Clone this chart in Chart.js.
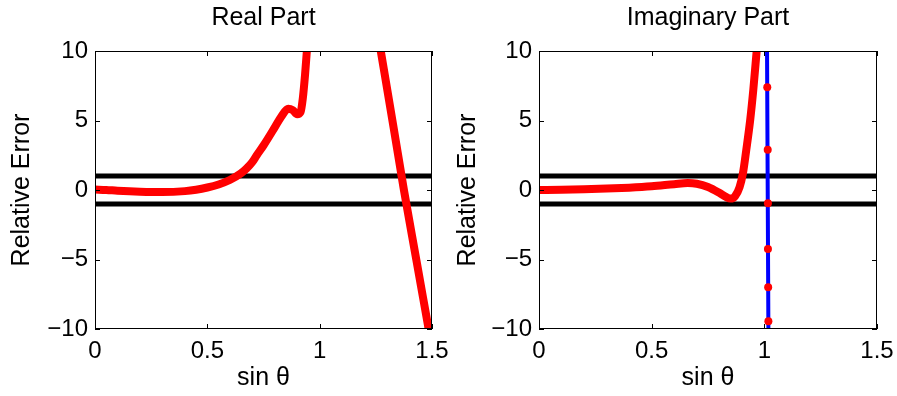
<!DOCTYPE html>
<html>
<head>
<meta charset="utf-8">
<script src="https://cdn.jsdelivr.net/npm/chart.js@4/dist/chart.umd.min.js"></script>
<style>
    html, body { margin: 0; padding: 0; background: #fff; }
    #wrap { position: relative; width: 897px; height: 396px; overflow: hidden; }
    .panel { position: absolute; top: 0; }
</style>
</head>
<body>
<div id="wrap">
    <div class="panel" style="left:0;"><canvas id="chartReal" width="470" height="396"></canvas></div>
    <div class="panel" style="left:448px;"><canvas id="chartImag" width="449" height="396"></canvas></div>
</div>
<script>
// ── Datos ─────────────────────────────────────────────────────────────────
const xTicks = [0, 0.5, 1, 1.5];
const yTicks = [-10, -5, 0, 5, 10];

// Parte real: primer tramo y tramo descendente
const realX1 = [0, 0.05, 0.1, 0.2, 0.3, 0.4, 0.45, 0.5, 0.55, 0.6, 0.65, 0.675, 0.7, 0.72, 0.75, 0.8, 0.83, 0.86, 0.88, 0.9, 0.915, 0.925, 0.935, 0.943];
const realY1 = [0.03, 0, -0.05, -0.12, -0.15, -0.08, 0.02, 0.18, 0.4, 0.72, 1.2, 1.55, 2.0, 2.5, 3.2, 4.5, 5.3, 5.85, 5.75, 5.45, 5.6, 6.6, 8.3, 10];
const realX2 = [1.272, 1.33, 1.375, 1.43, 1.485];
const realY2 = [10, 4.4, 0, -5, -10];

// Parte imaginaria
const imagX = [0, 0.1, 0.2, 0.3, 0.4, 0.5, 0.6, 0.66, 0.7, 0.75, 0.8, 0.83, 0.85, 0.87, 0.89, 0.905, 0.92, 0.937, 0.951, 0.966];
const imagY = [0, 0.02, 0.05, 0.1, 0.17, 0.27, 0.42, 0.5, 0.45, 0.22, -0.2, -0.5, -0.62, -0.45, 0.2, 1.2, 2.9, 5.0, 7.2, 10];
const blueX = [1.012, 1.018];
const blueY = [10, -10];
const dotX  = [1.013, 1.015, 1.016, 1.016, 1.017, 1.018];
const dotY  = [7.4, 2.9, -0.95, -4.25, -7.0, -9.45];

// Bandas de ±1
const bandX  = [0, 1.5];
const bandUp = [1, 1];
const bandDn = [-1, -1];

const pts = (xs, ys) => xs.map((x, i) => ({ x, y: ys[i] }));

// ── Caja estilo MATLAB con marcas hacia dentro ───────────────────────────
const boxPlugin = {
    id: 'matlabBox',
    afterDraw(chart) {
        const { ctx, chartArea: a, scales } = chart;
        const len = 5;
        ctx.save();
        ctx.strokeStyle = '#000';
        ctx.lineWidth = 1;
        ctx.strokeRect(a.left + 0.5, a.top + 0.5, a.right - a.left - 1, a.bottom - a.top - 1);
        ctx.beginPath();
        xTicks.forEach(v => {
            const px = Math.round(scales.x.getPixelForValue(v)) + 0.5;
            ctx.moveTo(px, a.bottom); ctx.lineTo(px, a.bottom - len);
            ctx.moveTo(px, a.top);    ctx.lineTo(px, a.top + len);
        });
        yTicks.forEach(v => {
            const py = Math.round(scales.y.getPixelForValue(v)) + 0.5;
            ctx.moveTo(a.left, py);  ctx.lineTo(a.left + len, py);
            ctx.moveTo(a.right, py); ctx.lineTo(a.right - len, py);
        });
        ctx.stroke();
        ctx.restore();
    }
};

function lineSet(data, color, width, order) {
    return {
        data, borderColor: color, backgroundColor: color, borderWidth: width,
        showLine: true, pointRadius: 0, order,
        borderCapStyle: 'round', borderJoinStyle: 'round',
        cubicInterpolationMode: 'monotone'
    };
}

function makeChart(canvasId, title, datasets, yAxisWidth, rightPad, yTitlePad) {
    const font = 'Liberation Sans, Arial, Helvetica, sans-serif';
    return new Chart(document.getElementById(canvasId).getContext('2d'), {
        type: 'scatter',
        data: { datasets },
        options: {
            responsive: false,
            animation: false,
            layout: { padding: { left: 0, right: rightPad, top: 0, bottom: 0 } },
            plugins: {
                legend: { display: false },
                tooltip: { enabled: false },
                title: {
                    display: true, text: title, fullSize: false, color: '#000',
                    font: { family: font, size: 25, weight: 'normal' },
                    padding: { top: 3, bottom: 18 }
                }
            },
            scales: {
                x: {
                    type: 'linear', min: 0, max: 1.5,
                    afterBuildTicks: s => { s.ticks = xTicks.map(v => ({ value: v })); },
                    afterFit: s => { s.height = 67; s.paddingLeft = 0; s.paddingRight = 0; },
                    grid: { display: false, drawTicks: false },
                    border: { display: false },
                    ticks: { color: '#000', padding: 8, maxRotation: 0,
                             font: { family: font, size: 24 },
                             callback: v => String(v) },
                    title: { display: true, text: 'sin θ', color: '#000',
                             font: { family: font, size: 25 },
                             padding: { top: 0, bottom: 3 } }
                },
                y: {
                    type: 'linear', min: -10, max: 10,
                    afterBuildTicks: s => { s.ticks = yTicks.map(v => ({ value: v })); },
                    afterFit: s => { s.width = yAxisWidth; },
                    grid: { display: false, drawTicks: false },
                    border: { display: false },
                    ticks: { color: '#000', padding: 7,
                             font: { family: font, size: 24 },
                             callback: v => String(v).replace('-', '\u2212') },
                    title: { display: true, text: 'Relative Error', color: '#000',
                             font: { family: font, size: 25 },
                             padding: { top: yTitlePad, bottom: 0 } }
                }
            }
        },
        plugins: [boxPlugin]
    });
}

document.addEventListener('DOMContentLoaded', () => {
    const bands = () => [
        lineSet(pts(bandX, bandUp), '#000', 5, 3),
        lineSet(pts(bandX, bandDn), '#000', 5, 3)
    ];

    makeChart('chartReal', 'Real Part', [
        lineSet(pts(realX1, realY1), '#ff0000', 8, 0),
        lineSet(pts(realX2, realY2), '#ff0000', 8, 0),
        lineSet(pts(realX1, realY1), '#0000ff', 4, 1),
        ...bands()
    ], 95, 38, 7);

    makeChart('chartImag', 'Imaginary Part', [
        lineSet(pts(imagX, imagY), '#ff0000', 8, 0),
        { data: pts(dotX, dotY), pointRadius: 4, pointBorderWidth: 0,
          pointBackgroundColor: '#ff0000', showLine: false, order: 0 },
        lineSet(pts(blueX, blueY), '#0000ff', 4, 1),
        ...bands()
    ], 91, 20, 5);
});
</script>
</body>
</html>
